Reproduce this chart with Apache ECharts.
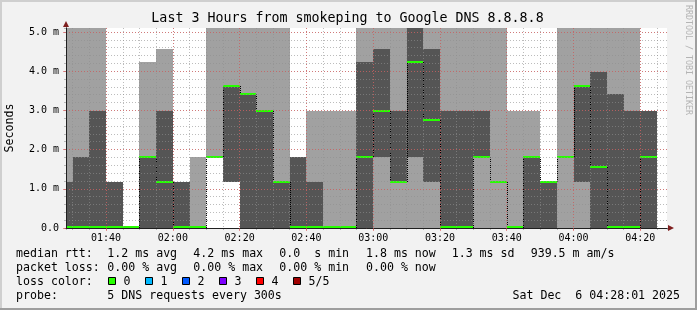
<!DOCTYPE html>
<html><head><meta charset="utf-8">
<script src="https://cdn.jsdelivr.net/npm/echarts@6/dist/echarts.min.js"></script>
<style>html,body{margin:0;padding:0;background:#f2f2f2;}#c{width:697px;height:310px;}</style>
</head><body><div id="c"></div>
<script>
// ---- data ----
const slotStart = ['01:28','01:30','01:35','01:40','01:45','01:50','01:55','02:00','02:05','02:10','02:15','02:20','02:25','02:30','02:35','02:40','02:45','02:50','02:55','03:00','03:05','03:10','03:15','03:20','03:25','03:30','03:35','03:40','03:45','03:50','03:55','04:00','04:05','04:10','04:15','04:20','04:25'];
const rangeEnd = '04:28';
// sorted pings per 5-min slot (ms): lowest, 2nd, median, 4th, highest
const pingLow  = [0,0,0,0,0,0,0,0,0,1.81,1.17,0,0,0,0,0,0,0,0,0,0,0,0,0,0,0,0,0,0,0,0,0,0,0,0,0,null];
const ping2    = [0,0,0,0,0,0,0,0,0,1.81,1.17,0,0,0,0,0,0,0,0,1.81,1.17,1.81,1.17,0,0,1.81,1.17,0,0,0,1.81,1.17,0,0,0,0,null];
const pingMed  = [0,0,0,0,0,1.81,1.17,0,0,1.81,3.61,3.41,2.99,1.17,0,0,0,0,1.81,2.99,1.17,4.23,2.76,0,0,1.81,1.17,0,1.81,1.17,1.81,3.61,1.56,0,0,1.81,null];
const ping4    = [1.17,1.81,2.99,1.17,0,1.81,2.99,1.17,0,1.81,3.61,3.41,2.99,1.17,1.81,1.17,0,0,4.23,4.57,2.99,5.1,4.57,2.99,2.99,2.99,1.17,0,1.81,1.17,1.81,3.61,3.98,3.41,2.99,2.99,null];
const pingHigh = [5.1,5.1,5.1,1.17,0,4.23,4.57,1.17,1.81,5.1,5.1,5.1,5.1,5.1,1.81,2.99,2.99,2.99,5.1,5.1,5.1,5.1,5.1,5.1,5.1,5.1,5.1,2.99,2.99,1.17,5.1,5.1,5.1,5.1,5.1,2.99,null];
const yTop = 5.1;
const titleText = 'Last 3 Hours from smokeping to Google DNS 8.8.8.8';
const rttRow = ['median rtt:','1.2 ms avg','4.2 ms max','0.0  s min','1.8 ms now','1.3 ms sd','939.5 m am/s'];
const lossRow = ['packet loss:','0.00 % avg','0.00 % max','0.00 % min','0.00 % now'];
const lossLabels = ['0','1','2','3','4','5/5'];
const lossColors = ['#26ff00','#00b8ff','#0059ff','#7e00ff','#ff0000','#a00000'];
const probeRow = ['probe:','5 DNS requests every 300s'];
const stampText = 'Sat Dec  6 04:28:01 2025';

// ---- styles ----
const MONO = 'DejaVu Sans Mono';
const LIGHT = '#a1a1a1', DARK = '#555555';
const GRIDC = 'rgba(143,143,143,0.6)', MGRIDC = 'rgba(222,79,79,0.6)';
const AXISC = '#1f1f1f', ARROWC = '#7f1f1f';

function toMin(s){const p=s.split(':').map(Number);return p[0]*60+p[1];}
function fmt(v){const h=Math.floor(v/60),m=Math.round(v-h*60);return String(h).padStart(2,'0')+':'+String(m).padStart(2,'0');}
const starts = slotStart.map(toMin);
const ends = starts.slice(1).concat([toMin(rangeEnd)]);
const tMin = starts[0], tMax = toMin(rangeEnd);
const items = [];
for (let i=0;i<starts.length;i++){
  if (pingMed[i]==null) continue;
  const prev = (i>0 && pingMed[i-1]!=null) ? pingMed[i-1] : pingMed[i];
  items.push([starts[i], ends[i], pingLow[i], ping2[i], pingMed[i], ping4[i], pingHigh[i], prev]);
}

function renderItem(params, api){
  const t0=api.value(0), t1=api.value(1);
  const lo=api.value(2), q1=api.value(3), med=api.value(4), q3=api.value(5), hi=api.value(6), prev=api.value(7);
  const xa=Math.round(api.coord([t0,0])[0]), xb=Math.round(api.coord([t1,0])[0]);
  const Y=v=>Math.round(api.coord([t0,v])[1]);
  const ch=[];
  if (hi>lo) ch.push({type:'rect',shape:{x:xa,y:Y(hi),width:xb-xa,height:Y(lo)-Y(hi)},style:{fill:LIGHT}});
  if (q3>q1) ch.push({type:'rect',shape:{x:xa,y:Y(q3),width:xb-xa,height:Y(q1)-Y(q3)},style:{fill:DARK}});
  if (prev!==med) ch.push({type:'line',shape:{x1:xa+0.5,y1:Y(prev),x2:xa+0.5,y2:Y(med)},style:{stroke:'#000',lineWidth:1,lineDash:[1,1]}});
  const ym=Math.min(Y(med),227);
  ch.push({type:'line',shape:{x1:xa,y1:ym,x2:xb,y2:ym},style:{stroke:lossColors[0],lineWidth:2}});
  return {type:'group',children:ch};
}

const chart = echarts.init(document.getElementById('c'), null, {renderer:'canvas', devicePixelRatio:1});
const T = (text,x,y,o) => Object.assign({type:'text',x:x,y:y,silent:true,style:Object.assign({text:text,fill:'#000',font:'11.6px '+MONO,align:'left',verticalAlign:'middle'},o||{})});
const g = [];
// frame
g.push({type:'rect',shape:{x:0,y:0,width:697,height:2},style:{fill:'#cfcfcf'}});
g.push({type:'rect',shape:{x:0,y:0,width:2,height:310},style:{fill:'#cfcfcf'}});
g.push({type:'rect',shape:{x:0,y:308,width:697,height:2},style:{fill:'#9e9e9e'}});
g.push({type:'rect',shape:{x:695,y:0,width:2,height:310},style:{fill:'#9e9e9e'}});
g.push(T(titleText,347.5,19,{font:'13.3px '+MONO,align:'center'}));
g.push(Object.assign(T('Seconds',10,128,{align:'center'}),{rotation:Math.PI/2}));
g.push(Object.assign(T('RRDTOOL / TOBI OETIKER',688,60,{align:'center',font:'8.3px '+MONO,fill:'#b4b4b4'}),{rotation:-Math.PI/2}));
const colX=[16,107.3,193.3,279.3,366,451.7,530.7];
rttRow.forEach((s,i)=>g.push(T(s,colX[i],253.6)));
lossRow.forEach((s,i)=>g.push(T(s,colX[i],267.9)));
g.push(T('loss color:',16,282));
lossLabels.forEach((s,i)=>{
  const bx=108.5+37*i;
  g.push({type:'rect',shape:{x:bx,y:277.5,width:7,height:7},style:{fill:lossColors[i],stroke:'#000',lineWidth:1}});
  g.push(T(s,bx+15,282));
});
g.push(T(probeRow[0],16,296));
g.push(T(probeRow[1],107.3,296));
g.push(T(stampText,680,296,{align:'right'}));

const lbl = {fontFamily:MONO,fontSize:10,color:'#000'};
chart.setOption({
  animation:false,
  backgroundColor:'#f2f2f2',
  grid:{left:66,top:28,width:601,height:200,show:true,backgroundColor:'#ffffff',borderWidth:0},
  xAxis:[
    {type:'value',position:'bottom',min:tMin,max:tMax,splitNumber:9,minInterval:20,maxInterval:20,z:6,
     axisLine:{show:true,onZero:false,lineStyle:{color:AXISC,width:1}},
     axisTick:{show:true,length:3,lineStyle:{color:MGRIDC}},
     axisLabel:Object.assign({show:true,margin:5,showMinLabel:false,showMaxLabel:false,formatter:fmt},lbl),
     splitLine:{show:true,showMinLine:false,showMaxLine:false,lineStyle:{color:MGRIDC,width:1,type:[1,2]}}},
    {type:'value',position:'bottom',min:tMin,max:tMax,splitNumber:36,minInterval:5,maxInterval:5,z:5,
     axisLine:{show:true,onZero:false,symbol:['none','triangle'],symbolSize:[6,6],symbolOffset:[0,4],lineStyle:{color:ARROWC,width:1}},
     axisTick:{show:true,length:2,lineStyle:{color:GRIDC}},
     axisLabel:{show:false},
     splitLine:{show:true,showMinLine:false,showMaxLine:false,lineStyle:{color:GRIDC,width:1,type:[1,2]}}}
  ],
  yAxis:[
    {type:'value',position:'left',min:0,max:yTop,interval:1,z:6,
     axisLine:{show:true,onZero:false,lineStyle:{color:AXISC,width:1}},
     axisTick:{show:true,length:3,lineStyle:{color:MGRIDC}},
     axisLabel:Object.assign({margin:7,showMaxLabel:false,formatter:v=>v===0?'0.0':v.toFixed(1)+' m'},lbl),
     splitLine:{show:true,showMinLine:false,showMaxLine:false,lineStyle:{color:MGRIDC,width:1,type:[1,2]}}},
    {type:'value',position:'left',min:0,max:yTop,interval:0.2,z:5,
     axisLine:{show:true,onZero:false,symbol:['none','triangle'],symbolSize:[6,6],symbolOffset:[0,4],lineStyle:{color:ARROWC,width:1}},
     axisTick:{show:true,length:2,lineStyle:{color:GRIDC}},
     axisLabel:{show:false},
     splitLine:{show:true,showMinLine:false,showMaxLine:false,lineStyle:{color:GRIDC,width:1,type:[1,2]}}}
  ],
  series:[{type:'custom',xAxisIndex:0,yAxisIndex:0,renderItem:renderItem,data:items,encode:{x:[0,1],y:[2,6]},clip:false,silent:true}],
  graphic:g
});
</script></body></html>
